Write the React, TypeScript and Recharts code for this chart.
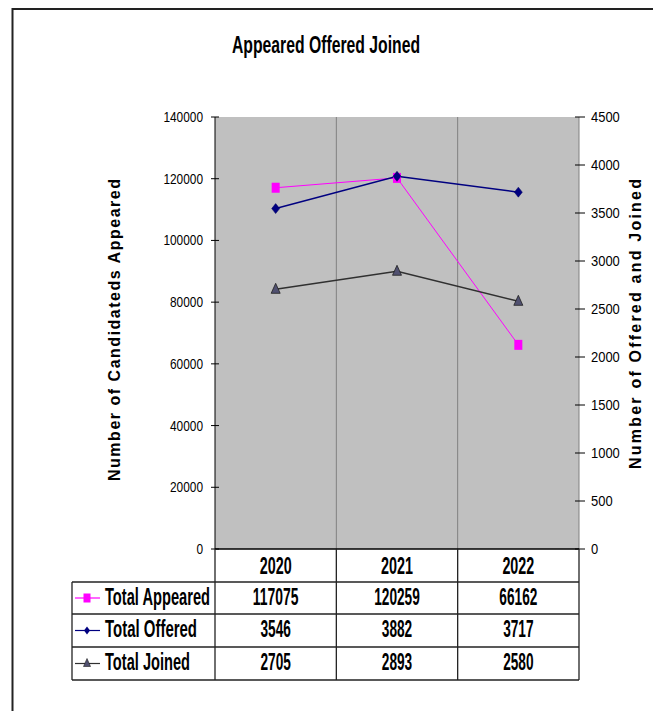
import React from 'react';
import { ComposedChart, Line, XAxis, YAxis, CartesianGrid } from 'recharts';

const years = ['2020', '2021', '2022'];
const appeared = [117075, 120259, 66162];
const offered = [3546, 3882, 3717];
const joined = [2705, 2893, 2580];

const leftTicks = [0, 20000, 40000, 60000, 80000, 100000, 120000, 140000];
const rightTicks = [0, 500, 1000, 1500, 2000, 2500, 3000, 3500, 4000, 4500];

const seriesNames = ['Total Appeared', 'Total Offered', 'Total Joined'];

const W = 661;
const H = 719;
const PLOT_L = 215;
const PLOT_R = 579;
const PLOT_T = 117;
const PLOT_B = 549;
const AXIS_W = 60;
const TICK_SIZE = 4;
const TICK_MARGIN = 8;

const NARROW = "'Liberation Sans Narrow', 'Arial Narrow', 'Liberation Sans', Arial, sans-serif";
const SANS = "'Liberation Sans', Arial, sans-serif";

const data = years.map((year, i) => ({
  year,
  appeared: appeared[i],
  offered: offered[i],
  joined: joined[i],
}));

const LeftTick = (props: any) => {
  const { x, y, payload } = props;
  const ax = x + TICK_SIZE + TICK_MARGIN;
  const s = String(payload.value);
  return (
    <g>
      <line x1={ax - 4} x2={ax + 4} y1={y} y2={y} stroke="#000" />
      <text x={x} y={y} dy={5} textAnchor="end" fontSize={15} fontFamily={NARROW} fill="#000"
        textLength={s.length * 6.6} lengthAdjust="spacingAndGlyphs">{s}</text>
    </g>
  );
};

const RightTick = (props: any) => {
  const { x, y, payload } = props;
  const ax = x - TICK_SIZE - TICK_MARGIN + 1;
  const s = String(payload.value);
  return (
    <g>
      <line x1={ax - 5} x2={ax + 5} y1={y} y2={y} stroke="#000" />
      <text x={x} y={y} dy={5} textAnchor="start" fontSize={15} fontFamily={NARROW} fill="#000"
        textLength={s.length * 7.2} lengthAdjust="spacingAndGlyphs">{s}</text>
    </g>
  );
};

const squareDot = (props: any) => {
  const { cx, cy, index } = props;
  return <rect key={`sq-${index}`} x={cx - 4} y={cy - 5} width={8} height={10} fill="#FF00FF" />;
};

const diamondDot = (props: any) => {
  const { cx, cy, index } = props;
  return (
    <polygon key={`dm-${index}`} points={`${cx},${cy - 5} ${cx + 4},${cy} ${cx},${cy + 5} ${cx - 4},${cy}`}
      fill="#000080" stroke="#000060" strokeWidth={0.5} />
  );
};

const triangleDot = (props: any) => {
  const { cx, cy, index } = props;
  return (
    <polygon key={`tr-${index}`} points={`${cx},${cy - 6} ${cx + 4.5},${cy + 4} ${cx - 4.5},${cy + 4}`}
      fill="#505070" stroke="#202020" strokeWidth={0.8} />
  );
};

// tall, condensed bold text like the original spreadsheet export
const TallText = ({ x, y, w, size, sy, anchor = 'start', children }: any) => (
  <g transform={`translate(${x}, ${y}) scale(1, ${sy})`}>
    <text x={0} y={0} textAnchor={anchor} fontSize={size} fontWeight="bold" fontFamily={NARROW}
      textLength={w} lengthAdjust="spacingAndGlyphs" fill="#000">{children}</text>
  </g>
);

// little legend keys inside the data table
const LegendKey = ({ kind, y }: { kind: number; y: number }) => {
  const cx = 87;
  const stroke = ['#FF00FF', '#000080', '#303030'][kind];
  return (
    <g>
      <line x1={75} x2={100} y1={y} y2={y} stroke={stroke} strokeWidth={1.2} />
      {kind === 0 && <rect x={cx - 3.5} y={y - 4.5} width={7} height={9} fill="#FF00FF" />}
      {kind === 1 && <polygon points={`${cx},${y - 4} ${cx + 3},${y} ${cx},${y + 4} ${cx - 3},${y}`} fill="#000080" />}
      {kind === 2 && <polygon points={`${cx},${y - 5} ${cx + 3.5},${y + 3} ${cx - 3.5},${y + 3}`} fill="#505070" stroke="#202020" strokeWidth={0.6} />}
    </g>
  );
};

function Overlay() {
  const colW = (PLOT_R - PLOT_L) / years.length;
  const colX = years.map((_, i) => PLOT_L + colW * i);
  const rows = [582, 614, 647, 680];
  const rowValues = [appeared, offered, joined];
  const labelW = [105, 92, 85];
  const digitW = 7.6;
  return (
    <svg width={W} height={H} style={{ position: 'absolute', left: 0, top: 0, pointerEvents: 'none' }}>
      {/* title */}
      <TallText x={326} y={53} w={188} size={16} sy={1.45} anchor="middle">Appeared Offered Joined</TallText>

      {/* axis titles */}
      <text transform="translate(120, 330) rotate(-90)" textAnchor="middle" fontSize={16} fontWeight="bold"
        fontFamily={SANS} fill="#000" textLength={302} lengthAdjust="spacing">Number of Candidateds Appeared</text>
      <text transform="translate(641, 324) rotate(-90)" textAnchor="middle" fontSize={16} fontWeight="bold"
        fontFamily={SANS} fill="#000" textLength={290} lengthAdjust="spacing">Number of Offered and Joined</text>

      {/* data table grid */}
      <g stroke="#222" strokeWidth={1.3} fill="none">
        <line x1={PLOT_L} x2={PLOT_R} y1={PLOT_B} y2={PLOT_B} stroke="#000" />
        {[...colX, PLOT_R].map((x, i) => (
          <line key={`v${i}`} x1={x} x2={x} y1={PLOT_B} y2={rows[rows.length - 1]} />
        ))}
        <line x1={72} x2={72} y1={rows[0]} y2={rows[rows.length - 1]} />
        {rows.map((y, i) => (
          <line key={`h${i}`} x1={72} x2={PLOT_R} y1={y} y2={y} />
        ))}
      </g>

      {/* year header */}
      {years.map((yr, i) => (
        <TallText key={yr} x={colX[i] + colW / 2} y={574} w={yr.length * digitW * 1.05} size={14} sy={1.7} anchor="middle">
          {yr}
        </TallText>
      ))}

      {/* series rows */}
      {seriesNames.map((name, r) => {
        const top = rows[r];
        const mid = (rows[r] + rows[r + 1]) / 2;
        return (
          <g key={name}>
            <LegendKey kind={r} y={mid} />
            <TallText x={105} y={top + 23} w={labelW[r]} size={14.5} sy={1.7}>{name}</TallText>
            {rowValues[r].map((v, i) => {
              const s = String(v);
              return (
                <TallText key={i} x={colX[i] + colW / 2} y={top + 23} w={s.length * digitW} size={14} sy={1.7} anchor="middle">
                  {s}
                </TallText>
              );
            })}
          </g>
        );
      })}

      {/* outer frame of the exported chart */}
      <path d={`M12.5,${H} L12.5,9 L${W},9`} fill="none" stroke="#222" strokeWidth={2} />
    </svg>
  );
}

export default function App() {
  return (
    <div style={{ position: 'relative', width: W, height: H, margin: -8, background: '#fff', overflow: 'hidden' }}>
      <ComposedChart
        width={W}
        height={H}
        data={data}
        margin={{ top: PLOT_T, bottom: H - PLOT_B, left: PLOT_L - AXIS_W, right: W - PLOT_R - AXIS_W }}
      >
        <CartesianGrid
          fill="#c0c0c0"
          horizontal={false}
          stroke="#808080"
          verticalCoordinatesGenerator={({ offset }: any) =>
            years.slice(1).map((_, i) => offset.left + (offset.width * (i + 1)) / years.length)
          }
        />
        <XAxis dataKey="year" hide scale="band" />
        <YAxis
          yAxisId="left"
          width={AXIS_W}
          domain={[0, 140000]}
          ticks={leftTicks}
          interval={0}
          tickSize={TICK_SIZE}
          tickMargin={TICK_MARGIN}
          tickLine={false}
          axisLine={{ stroke: '#000' }}
          tick={<LeftTick />}
        />
        <YAxis
          yAxisId="right"
          orientation="right"
          width={AXIS_W}
          domain={[0, 4500]}
          ticks={rightTicks}
          interval={0}
          tickSize={TICK_SIZE}
          tickMargin={TICK_MARGIN}
          tickLine={false}
          axisLine={{ stroke: '#808080' }}
          tick={<RightTick />}
        />
        <Line yAxisId="left" dataKey="appeared" stroke="#FF00FF" strokeWidth={1} dot={squareDot}
          activeDot={false} isAnimationActive={false} />
        <Line yAxisId="right" dataKey="offered" stroke="#000080" strokeWidth={1.5} dot={diamondDot}
          activeDot={false} isAnimationActive={false} />
        <Line yAxisId="right" dataKey="joined" stroke="#303030" strokeWidth={1.5} dot={triangleDot}
          activeDot={false} isAnimationActive={false} />
      </ComposedChart>
      <Overlay />
    </div>
  );
}
